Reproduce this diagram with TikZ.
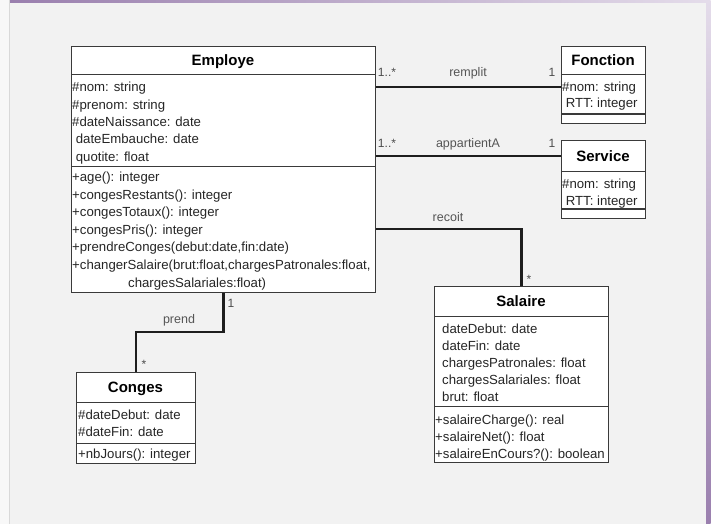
\documentclass[tikz,border=0pt]{standalone}
\usepackage{fontspec}
\setmainfont{Liberation Sans}
\usetikzlibrary{calc}

\definecolor{panel}{HTML}{F2F2F2}
\definecolor{frameL}{HTML}{F8F8F8}
\definecolor{purpleA}{HTML}{9A7FAE}
\definecolor{purpleB}{HTML}{E4DCEA}
\definecolor{boxline}{HTML}{3A3A3A}
\definecolor{linkline}{HTML}{1E1E1E}
\definecolor{labelgray}{HTML}{555555}

\tikzset{
  classbox/.style={draw=boxline, fill=white, line width=1pt, inner sep=0pt, anchor=north west},
  compart/.style={draw=boxline, line width=1pt},
  compartb/.style={draw=boxline, line width=1.6pt},
  title/.style={font=\fontsize{15}{18}\selectfont\bfseries, text=black, inner sep=0pt, anchor=base},
  member/.style={font=\fontsize{13.2}{17}\selectfont, text=black!85, inner sep=0pt, anchor=base west},
  assoc/.style={draw=linkline, line width=2.2pt},
  rolelabel/.style={font=\fontsize{12.5}{15}\selectfont, text=labelgray, inner sep=0pt, anchor=base},
  mult/.style={font=\fontsize{12}{14}\selectfont, text=black!70, inner sep=0pt, anchor=base},
}

\begin{document}
\begin{tikzpicture}[x=1pt, y=-1pt]
  \useasboundingbox (0,0) rectangle (720,524);

  % window frame
  \fill[white] (0,0) rectangle (720,524);
  \fill[frameL] (0,0) rectangle (9,524);
  \fill[panel] (9.5,0) rectangle (706,524);
  \draw[black!15, line width=0.8pt] (9.5,0) -- (9.5,524);
  \shade[left color=purpleA, right color=purpleB] (10,0) rectangle (706,2.5);
  \shade[top color=purpleB, bottom color=purpleA] (706,0) rectangle (710.5,524);

  % ---------- Employe ----------
  \node[classbox, minimum width=304pt, minimum height=246pt] (employe) at (71,46) {};
  \draw[compart] (71,75) -- (375,75);
  \draw[compart] (71,166) -- (375,166);
  \node[title] (employe-name) at (223,66) {Employe};
  \foreach \t [count=\i] in {{\#nom: string},{\#prenom: string},{\#dateNaissance: date},{\ dateEmbauche: date},{\ quotite: float}}
    \node[member, name=employe-a\i] at (72,{92+17.3*(\i-1)}) {\t};
  \foreach \t [count=\i] in {{+age(): integer},{+congesRestants(): integer},{+congesTotaux(): integer},{+congesPris(): integer},{+prendreConges(debut:date,fin:date)},{+changerSalaire(brut:float,chargesPatronales:float,}}
    \node[member, name=employe-o\i] at (72,{182+17.4*(\i-1)}) {\t};
  \node[member] (employe-o7) at (128,287.5) {chargesSalariales:float)};

  % ---------- Fonction ----------
  \node[classbox, minimum width=84pt, minimum height=77pt] (fonction) at (561,46) {};
  \draw[compart] (561,75) -- (645,75);
  \draw[compartb] (561,114) -- (645,114);
  \node[title] (fonction-name) at (603,66) {Fonction};
  \node[member] (fonction-a1) at (562,92) {\#nom: string};
  \node[member] (fonction-a2) at (562,108) {\ RTT: integer};

  % ---------- Service ----------
  \node[classbox, minimum width=84pt, minimum height=78pt] (service) at (561,140) {};
  \draw[compart] (561,171) -- (645,171);
  \draw[compartb] (561,209) -- (645,209);
  \node[title] (service-name) at (603,161) {Service};
  \node[member] (service-a1) at (562,188.5) {\#nom: string};
  \node[member] (service-a2) at (562,205) {\ RTT: integer};

  % ---------- Salaire ----------
  \node[classbox, minimum width=174pt, minimum height=176pt] (salaire) at (434,286) {};
  \draw[compart] (434,316) -- (608,316);
  \draw[compart] (434,406.5) -- (608,406.5);
  \node[title] (salaire-name) at (521,306.5) {Salaire};
  \foreach \t [count=\i] in {{dateDebut: date},{dateFin: date},{chargesPatronales: float},{chargesSalariales: float},{brut: float}}
    \node[member, name=salaire-a\i] at (442,{333+17.2*(\i-1)}) {\t};
  \foreach \t [count=\i] in {{+salaireCharge(): real},{+salaireNet(): float},{+salaireEnCours?(): boolean}}
    \node[member, name=salaire-o\i] at (435,{424+17*(\i-1)}) {\t};

  % ---------- Conges ----------
  \node[classbox, minimum width=119pt, minimum height=91pt] (conges) at (76,372) {};
  \draw[compart] (76,402) -- (195,402);
  \draw[compart] (76,443) -- (195,443);
  \node[title] (conges-name) at (135.5,392.5) {Conges};
  \node[member] (conges-a1) at (78,419) {\#dateDebut: date};
  \node[member] (conges-a2) at (78,436) {\#dateFin: date};
  \node[member] (conges-o1) at (78,458) {+nbJours(): integer};

  % ---------- associations ----------
  \coordinate (remplit-end) at (fonction.west |- 0,87);
  \coordinate (appartient-end) at (service.west |- 0,156);
  \coordinate (recoit-bend) at (450,229);
  \coordinate (prend-bend) at (180,332);

  \draw[assoc] (employe.east |- remplit-end) -- (remplit-end);
  \draw[assoc] (employe.east |- appartient-end) -- (appartient-end);
  \draw[assoc] (employe.east |- recoit-bend) -| (salaire.north);
  \draw[assoc] (employe.south) |- (prend-bend) -| (conges.north);

  \node[mult] (remplit-m1) at (387,77) {1..*};
  \node[rolelabel] (remplit-lbl) at (468,77) {remplit};
  \node[mult] (remplit-m2) at (552,77) {1};

  \node[mult] (appartient-m1) at (387,147) {1..*};
  \node[rolelabel] (appartient-lbl) at (468,147) {appartientA};
  \node[mult] (appartient-m2) at (552,147) {1};

  \node[rolelabel] (recoit-lbl) at (448,221) {recoit};
  \node[mult] (recoit-m) at (529,283) {*};

  \node[mult] (prend-m1) at (231,307.5) {1};
  \node[rolelabel] (prend-lbl) at (179,323) {prend};
  \node[mult] (prend-m2) at (144,368) {*};
\end{tikzpicture}
\end{document}
